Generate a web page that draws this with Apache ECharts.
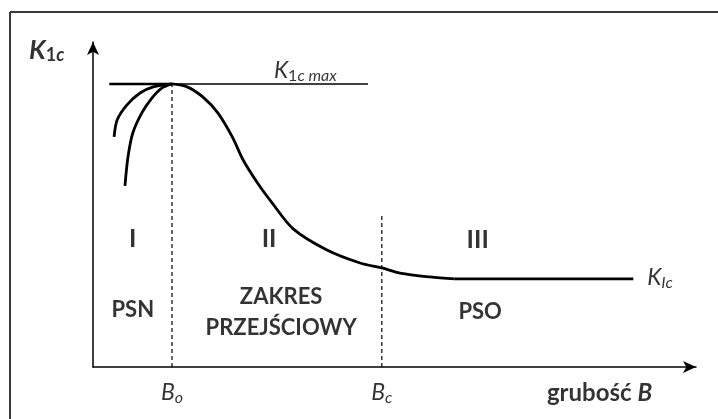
<!DOCTYPE html>
<html>
<head>
<meta charset="utf-8">
<script src="https://cdn.jsdelivr.net/npm/echarts@6/dist/echarts.min.js"></script>
<style>
html, body { margin: 0; padding: 0; background: #fff; }
#chart { width: 718px; height: 419px; }
</style>
</head>
<body>
<div id="chart"></div>
<script>
// krzywa K1c w funkcji grubosci B (jednostki umowne 0-100)
const mainCurve = [
  [13.1, 87.1], [15.6, 86.2], [18.2, 83.1], [20.7, 78.2], [23.1, 70.8],
  [24.9, 63.7], [27.4, 56.3], [29.7, 50.5], [33.2, 42.5], [38.8, 36.0],
  [44.3, 32.0], [47.9, 30.5], [50.9, 28.9], [55.9, 27.7], [60.0, 27.1]
];
const plateau = [[60.0, 27.1], [89.6, 27.1]];
const outerLeft = [[3.5, 70.8], [4.0, 76.0], [5.6, 80.6], [7.8, 84.3], [10.0, 86.2], [13.1, 87.1]];
const innerLeft = [[5.3, 55.7], [5.8, 64.6], [6.6, 72.0], [8.1, 78.2], [9.8, 82.8], [11.4, 85.8], [13.1, 87.1]];
const kMax = 87.1;
const kMaxStart = 2.7;
const kMaxEnd = 45.6;
const bo = 13.1;
const bc = 47.9;
const bcTop = 47.4;

// opisy
const labelTexts = [
  '{r|I}', '{r|II}', '{r|III}',
  '{s|PSN}', '{s|ZAKRES}\n{s|PRZEJŚCIOWY}', '{s|PSO}',
  '{bi|B}{sub|o}', '{bi|B}{sub|c}', '{g|grubość }{gbi|B}',
  '{ki|K}{subi|Ic}', '{ki|K}{sub1|1}{subi|c max}', '{kb|K}{subb|1}{subbi|c}'
];
const labelPos = [
  [6.6, 39.4], [29.2, 39.4], [63.8, 39.1],
  [6.6, 17.5], [31.2, 16.9], [64.2, 16.9],
  [13.1, -8.0], [47.9, -8.0], [84.0, -8.0],
  [91.9, 27.4], [30.0, 91.1], [-10.6, 97.5]
];
const labelAlign = ['center', 'center', 'center', 'center', 'center', 'center',
  'center', 'center', 'center', 'left', 'left', 'left'];

const font = 'Lato, "Open Sans", sans-serif';
const rich = {
  r: { fontFamily: font, fontWeight: 'bold', fontSize: 25, color: '#000' },
  s: { fontFamily: font, fontWeight: 'bold', fontSize: 22, lineHeight: 31, color: '#000' },
  g: { fontFamily: font, fontWeight: 'bold', fontSize: 24, lineHeight: 26, color: '#000' },
  gbi: { fontFamily: font, fontWeight: 'bold', fontStyle: 'italic', fontSize: 24, lineHeight: 26, color: '#000' },
  bi: { fontFamily: font, fontStyle: 'italic', fontSize: 23, lineHeight: 26, color: '#000' },
  sub: { fontFamily: font, fontStyle: 'italic', fontSize: 16, lineHeight: 15, verticalAlign: 'bottom', color: '#000' },
  ki: { fontFamily: font, fontStyle: 'italic', fontSize: 23, lineHeight: 26, color: '#000' },
  subi: { fontFamily: font, fontStyle: 'italic', fontSize: 16, lineHeight: 15, verticalAlign: 'bottom', color: '#000' },
  sub1: { fontFamily: font, fontSize: 16, lineHeight: 15, verticalAlign: 'bottom', color: '#000' },
  kb: { fontFamily: font, fontWeight: 'bold', fontStyle: 'italic', fontSize: 26, lineHeight: 28, color: '#000' },
  subb: { fontFamily: font, fontWeight: 'bold', fontSize: 18, lineHeight: 16, verticalAlign: 'bottom', color: '#000' },
  subbi: { fontFamily: font, fontWeight: 'bold', fontStyle: 'italic', fontSize: 18, lineHeight: 16, verticalAlign: 'bottom', color: '#000' }
};

const labelData = labelPos.map((p, i) => ({
  value: p,
  label: { formatter: labelTexts[i], align: labelAlign[i] }
}));

function curve(data, width) {
  return {
    type: 'line', data: data, symbol: 'none', smooth: 0.3,
    lineStyle: { color: '#000', width: width }, silent: true
  };
}
function dashed(data) {
  return {
    type: 'line', data: data, symbol: 'none',
    lineStyle: { color: '#000', width: 1.2, type: [4, 3] }, silent: true
  };
}

const chart = echarts.init(document.getElementById('chart'));
chart.setOption({
  animation: false,
  backgroundColor: '#fff',
  grid: { left: 93, right: 22, top: 42, bottom: 52 },
  xAxis: {
    type: 'value', min: 0, max: 100,
    axisLine: { onZero: false, symbol: ['none', 'arrow'], symbolSize: [9, 13], lineStyle: { color: '#000', width: 1.5 } },
    axisTick: { show: false }, axisLabel: { show: false }, splitLine: { show: false }
  },
  yAxis: {
    type: 'value', min: 0, max: 100,
    axisLine: { show: true, onZero: false, symbol: ['none', 'arrow'], symbolSize: [9, 13], lineStyle: { color: '#000', width: 1.5 } },
    axisTick: { show: false }, axisLabel: { show: false }, splitLine: { show: false }
  },
  graphic: [
    { type: 'line', shape: { x1: 10, y1: 12, x2: 718, y2: 12 }, style: { stroke: '#3a3a3a', lineWidth: 2 } },
    { type: 'line', shape: { x1: 10, y1: 12, x2: 10, y2: 419 }, style: { stroke: '#3a3a3a', lineWidth: 2 } }
  ],
  series: [
    curve([[kMaxStart, kMax], [bo, kMax]], 2.6),
    curve([[bo, kMax], [kMaxEnd, kMax]], 1.6),
    curve(mainCurve, 2.8),
    curve(plateau, 2.8),
    curve(outerLeft, 2.8),
    curve(innerLeft, 2.8),
    dashed([[bo, 0], [bo, kMax]]),
    dashed([[bc, 0], [bc, bcTop]]),
    {
      type: 'scatter', data: labelData, symbolSize: 1, clip: false, silent: true,
      itemStyle: { color: 'rgba(0,0,0,0)' },
      label: { show: true, position: 'inside', verticalAlign: 'middle', color: '#000', rich: rich }
    }
  ]
});
</script>
</body>
</html>
